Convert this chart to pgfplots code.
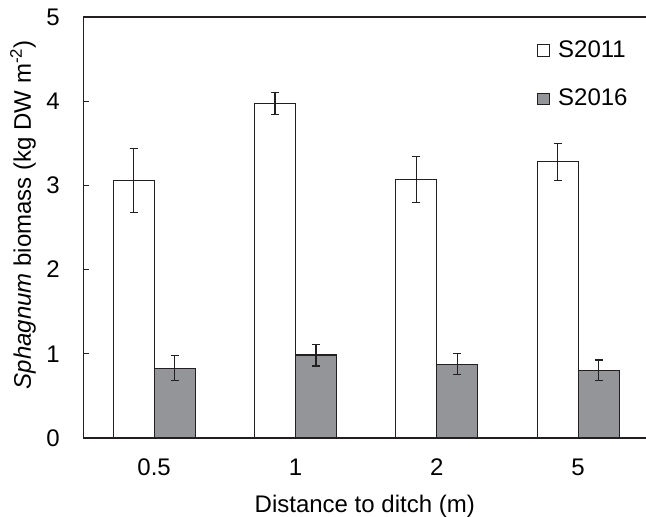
\documentclass[border=0pt]{standalone}
\usepackage{pgfplots}
\pgfplotsset{compat=1.18}
\usepackage{fontspec}
\setmainfont{Liberation Sans}
\definecolor{barfill}{RGB}{147,149,152}
\definecolor{lineblk}{RGB}{35,31,32}
\begin{document}
\fontsize{24}{29}\selectfont
\begin{tikzpicture}
\begin{axis}[
  at={(0,0)}, anchor=south west,
  scale only axis,
  width=562.5pt, height=421pt,
  xmin=-0.5, xmax=3.48,
  ymin=0, ymax=5,
  ybar, bar width=0.29,
  axis x line*=box, axis y line*=left,
  axis line style={lineblk, line width=1.4pt},
  xtick={0,1,2,3},
  xticklabels={0.5,1,2,5},
  xtick pos=bottom,
  x tick style={draw=none},
  extra x ticks={0.5,1.5,2.5},
  extra x tick labels={},
  extra x tick style={tick align=inside, major tick length=8pt, tick style={lineblk, line width=1.2pt, draw=lineblk}},
  ytick={0,1,2,3,4,5},
  ytick pos=left,
  tick align=inside,
  major tick length=6pt,
  y tick style={lineblk, line width=1.2pt},
  /pgf/number format/assume math mode=true,
  yticklabel style={xshift=-15.5pt},
  xticklabel style={yshift=-13pt},
  xlabel={Distance to ditch (m)},
  xlabel style={at={(axis description cs:0.5,0)}, anchor=north, yshift=-49pt},
  ylabel={\textit{Sphagnum} biomass (kg DW m\textsuperscript{-2})},
  ylabel style={at={(axis description cs:-0.0702,0.53)}, anchor=south},
  legend style={draw=none, fill=none, at={(axis description cs:0.806,0.95)}, anchor=north west,
    row sep=24pt, inner sep=0pt, font=\fontsize{24}{29}\selectfont,
    nodes={inner xsep=8.5pt}},
  legend cell align=left,
  legend image code/.code={\draw[#1, line width=0.9pt] (0pt,-5.8pt) rectangle (11.7pt,5.8pt);},
]
\addplot[bar shift=-0.145, fill=white, draw=lineblk, line width=1.2pt,
  error bars/.cd, y dir=both, y explicit,
  error bar style={lineblk, line width=1.2pt},
  error mark options={rotate=90, mark size=4pt, lineblk, line width=1.2pt}]
  coordinates {(0,3.06) +- (0,0.38) (1,3.97) +- (0,0.13) (2,3.07) +- (0,0.27) (3,3.28) +- (0,0.22)};
\addlegendentry{S2011}
\addplot[bar shift=0.145, fill=barfill, draw=lineblk, line width=1.2pt,
  error bars/.cd, y dir=both, y explicit,
  error bar style={lineblk, line width=1.2pt},
  error mark options={rotate=90, mark size=4pt, lineblk, line width=1.2pt}]
  coordinates {(0,0.83) +- (0,0.15) (1,0.985) +- (0,0.13) (2,0.877) +- (0,0.125) (3,0.806) +- (0,0.12)};
\addlegendentry{S2016}
\end{axis}
\pgfresetboundingbox
\path[use as bounding box] (-83.5pt,-79pt) rectangle (562.5pt,438pt);
\end{tikzpicture}
\end{document}
